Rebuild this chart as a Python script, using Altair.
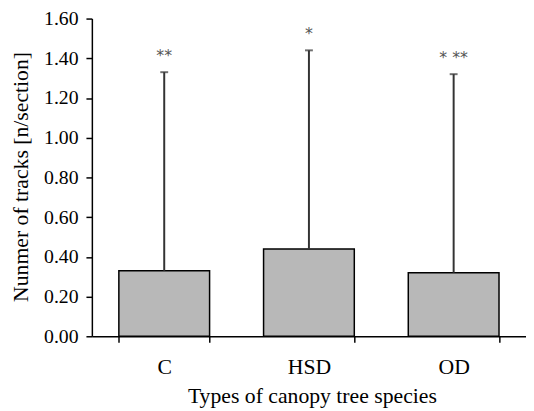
import altair as alt
import pandas as pd

categories = ["C", "HSD", "OD"]
means = [0.33, 0.44, 0.32]
upper = [1.33, 1.44, 1.32]
stars = ["**", "*", "* **"]
y_ticks = [0.0, 0.2, 0.4, 0.6, 0.8, 1.0, 1.2, 1.4, 1.6]

df = pd.DataFrame({"type": categories, "mean": means, "upper": upper, "stars": stars})

FONT = "Liberation Serif"
Y_TITLE = "Nunmer of tracks [n/section]"
yscale = alt.Scale(domain=[0, 1.6], nice=False, zero=True)

x_enc = alt.X(
    "type:N",
    sort=categories,
    scale=alt.Scale(paddingInner=0.373, paddingOuter=0.1865),
    title="Types of canopy tree species",
)

base = alt.Chart(df).encode(x=x_enc)

bars = base.mark_bar(fill="#b8b8b8", stroke="black", strokeWidth=1.5).encode(
    y=alt.Y("mean:Q", scale=yscale, title=Y_TITLE,
            axis=alt.Axis(values=y_ticks, format=".2f"))
)

stems = base.mark_rule(color="#333333", strokeWidth=2).encode(
    y=alt.Y("mean:Q", scale=yscale, title=Y_TITLE),
    y2="upper:Q",
)

caps = base.mark_tick(color="#333333", size=8, thickness=2).encode(
    y=alt.Y("upper:Q", scale=yscale, title=Y_TITLE)
)

labels = base.mark_text(
    font="DejaVu Sans", fontSize=16, color="#555555", dy=-11, baseline="alphabetic"
).encode(
    y=alt.Y("upper:Q", scale=yscale, title=Y_TITLE),
    text="stars:N",
)

chart = (
    alt.layer(bars, stems, caps, labels)
    .properties(
        width=440,
        height=322,
        autosize=alt.AutoSizeParams(type="none"),
        padding={"left": 85, "top": 8, "right": 0, "bottom": 72},
    )
    .configure_view(stroke=None)
    .configure_axis(
        labelFont=FONT,
        titleFont=FONT,
        labelColor="black",
        titleColor="black",
        domainColor="black",
        tickColor="black",
        domainWidth=1.5,
        tickWidth=1.5,
        grid=False,
        titleFontWeight="normal",
    )
    .configure_axisY(
        labelFontSize=20,
        tickSize=6,
        labelPadding=8,
        titleFontSize=22,
        titleAngle=270,
        titleX=-72,
        titleY=160,
        titleAlign="center",
        titleBaseline="middle",
    )
    .configure_axisX(
        labelFontSize=22,
        tickSize=6,
        labelPadding=15,
        labelAngle=0,
        tickBand="extent",
        titleFontSize=22,
        titleX=223,
        titleY=67,
        titleAlign="center",
        titleBaseline="alphabetic",
    )
)

chart.save("out.html", embed_options={"renderer": "svg", "actions": False})
